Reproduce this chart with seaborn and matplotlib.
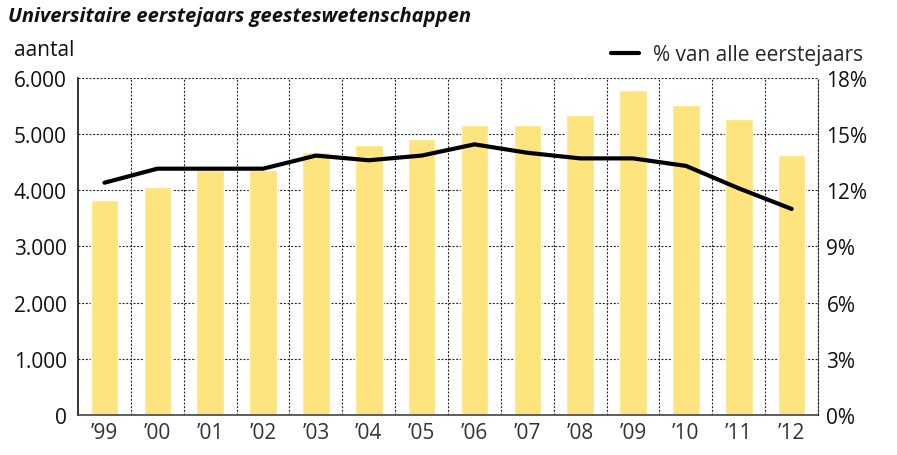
import numpy as np
import pandas as pd
import matplotlib
matplotlib.use('Agg')
import matplotlib.pyplot as plt
import seaborn as sns
from matplotlib.ticker import FixedLocator, FuncFormatter

# Data
years = ["’99", "’00", "’01", "’02", "’03", "’04", "’05",
         "’06", "’07", "’08", "’09", "’10", "’11", "’12"]
aantal = [3830, 4060, 4360, 4360, 4680, 4800, 4920,
          5170, 5170, 5340, 5780, 5510, 5270, 4630]
pct = [12.4, 13.15, 13.15, 13.15, 13.85, 13.6, 13.85,
       14.45, 14.0, 13.7, 13.7, 13.3, 12.1, 11.0]

df = pd.DataFrame({'jaar': years, 'aantal': aantal, 'pct': pct})
df['pos'] = np.arange(len(df))

sns.set_style('white')
plt.rcParams['font.family'] = ['Open Sans', 'DejaVu Sans']

fig = plt.figure(figsize=(8.97, 4.56), dpi=100)
ax = fig.add_axes([0.087, 0.088, 0.825, 0.739])

sns.barplot(data=df, x='jaar', y='aantal', color='#fde47f', saturation=1,
            width=0.52, ax=ax, zorder=2)

ax.set_xlim(-0.5, len(years) - 0.5)
ax.set_ylim(0, 6000)
ax.set_yticks(range(0, 6001, 1000))
ax.yaxis.set_major_formatter(FuncFormatter(lambda v, p: f'{int(v):,}'.replace(',', '.')))
ax.xaxis.set_minor_locator(FixedLocator(np.arange(0.5, len(years), 1)))
ax.set_axisbelow(True)
ax.grid(True, axis='y', which='major', color='#222222', linestyle=(0, (1.8, 1.5)), linewidth=0.8)
ax.grid(True, axis='x', which='minor', color='#222222', linestyle=(0, (1.8, 1.5)), linewidth=0.8)
ax.grid(False, axis='x', which='major')
ax.set_xlabel('')
ax.set_ylabel('')
ax.tick_params(axis='both', which='both', length=0, labelsize=15, colors='#111111')
ax.tick_params(axis='x', pad=5, labelcolor='#333333')
ax.tick_params(axis='y', pad=8)
for s in ['top', 'right']:
    ax.spines[s].set_visible(False)
ax.spines['left'].set_color('#111111')
ax.spines['bottom'].set_color('#444444')
ax.spines['left'].set_linewidth(1.2)
ax.spines['bottom'].set_linewidth(1.2)

ax2 = ax.twinx()
sns.lineplot(data=df, x='pos', y='pct', color='black', linewidth=3, ax=ax2,
             label='% van alle eerstejaars')
ax2.set_ylim(0, 18)
ax2.set_yticks(range(0, 19, 3))
ax2.yaxis.set_major_formatter(FuncFormatter(lambda v, p: f'{int(v)}%'))
ax2.set_ylabel('')
ax2.tick_params(axis='y', length=0, labelsize=15, pad=6, colors='#111111')
for s in ['top', 'left', 'bottom']:
    ax2.spines[s].set_visible(False)
ax2.spines['right'].set_linestyle((0, (1.8, 1.5)))
ax2.spines['right'].set_linewidth(0.8)
ax2.spines['right'].set_color('#222222')
ax2.legend(loc='lower right', bbox_to_anchor=(1.078, 1.0), frameon=False,
           fontsize=15, handlelength=1.3, handletextpad=0.7, borderaxespad=0.2)

fig.text(0.009, 0.962, 'Universitaire eerstejaars geesteswetenschappen',
         fontsize=14.5, fontweight='bold', fontstyle='italic', va='center', color='#111111')
fig.text(0.016, 0.89, 'aantal', fontsize=15, va='center', color='#111111')

fig.savefig('out.png', dpi=100)
